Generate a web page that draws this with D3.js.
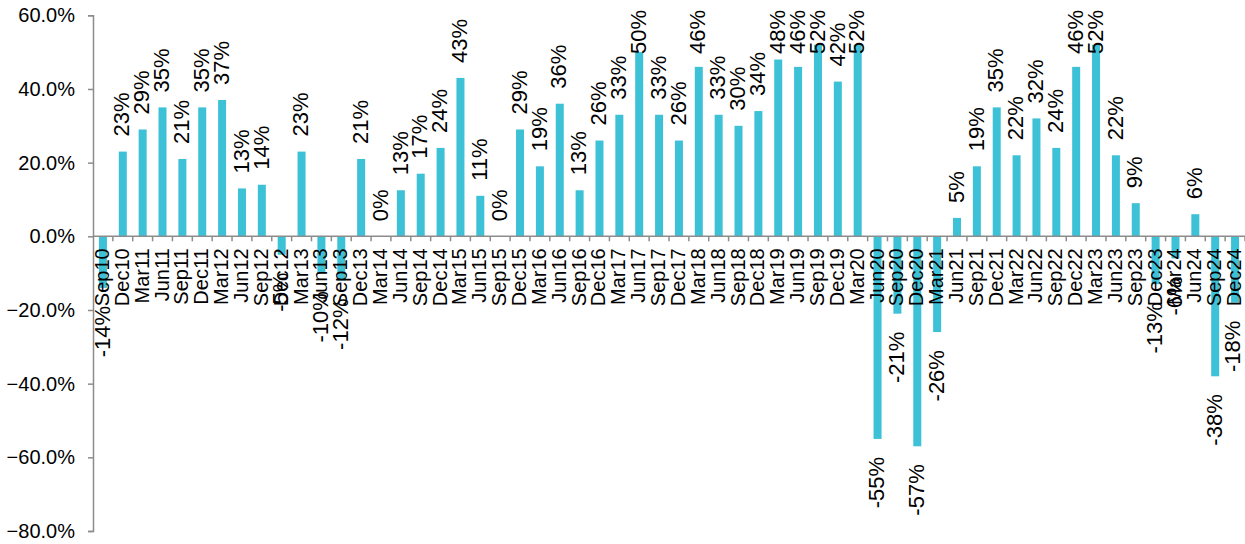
<!DOCTYPE html>
<html>
<head>
<meta charset="utf-8">
<script src="https://cdn.jsdelivr.net/npm/d3@7"></script>
<style>
  html, body { margin: 0; padding: 0; background: #fff; }
  svg { display: block; font-family: "Liberation Sans", Arial, sans-serif; }
</style>
</head>
<body>
<svg id="chart" width="1245" height="544"></svg>
<script>
// Quarterly percentage change
const quarters = [
  "Sep10","Dec10","Mar11","Jun11","Sep11","Dec11","Mar12","Jun12","Sep12","Dec12",
  "Mar13","Jun13","Sep13","Dec13","Mar14","Jun14","Sep14","Dec14","Mar15","Jun15",
  "Sep15","Dec15","Mar16","Jun16","Sep16","Dec16","Mar17","Jun17","Sep17","Dec17",
  "Mar18","Jun18","Sep18","Dec18","Mar19","Jun19","Sep19","Dec19","Mar20","Jun20",
  "Sep20","Dec20","Mar21","Jun21","Sep21","Dec21","Mar22","Jun22","Sep22","Dec22",
  "Mar23","Jun23","Sep23","Dec23","Mar24","Jun24","Sep24","Dec24"
];
const changePct = [
  -14, 23, 29, 35, 21, 35, 37, 13, 14, -5,
  23, -10, -12, 21, 0, 12.5, 17, 24, 43, 11,
  0, 29, 19, 36, 12.5, 26, 33, 50, 33, 26,
  46, 33, 30, 34, 48, 46, 52, 42, 52, -55,
  -21, -57, -26, 5, 19, 35, 22, 32, 24, 46,
  52, 22, 9, -13, -6, 6, -38, -18
];
const yTicks = [60, 40, 20, 0, -20, -40, -60, -80];

const barColor = "#3cc1d7";
const axisColor = "#8c8c8c";

const svg = d3.select("#chart");
const m = { left: 93, right: 1245, top: 15.3, bottom: 531 };

const x = d3.scaleBand().domain(quarters).range([m.left, m.right]).paddingInner(0.6).paddingOuter(0.3);
const y = d3.scaleLinear().domain([-80, 60]).range([m.bottom, m.top]);
const step = x.step();
const mid = q => x(q) + x.bandwidth() / 2;

const data = quarters.map((q, i) => ({ q, v: changePct[i] }));

// bars
svg.append("g").selectAll("rect").data(data).join("rect")
  .attr("x", d => mid(d.q) - 4)
  .attr("width", 8)
  .attr("y", d => Math.min(y(d.v), y(0)))
  .attr("height", d => Math.abs(y(d.v) - y(0)))
  .attr("fill", barColor);

// y axis
const yAxis = svg.append("g").attr("transform", `translate(${m.left},0)`)
  .call(d3.axisLeft(y).tickValues(yTicks).tickSize(5).tickPadding(13)
    .tickFormat(d => d3.format(".1f")(d) + "%"));
yAxis.select(".domain").attr("stroke", axisColor).attr("stroke-width", 1.5);
yAxis.selectAll(".tick line").attr("stroke", axisColor).attr("stroke-width", 1.5);
yAxis.selectAll(".tick text").attr("font-size", 20).attr("fill", "#000")
  .attr("font-family", "Liberation Sans, Arial, sans-serif");

// x axis at zero with ticks between categories
const zeroY = y(0);
const xAxisG = svg.append("g");
xAxisG.append("line")
  .attr("x1", m.left).attr("x2", m.right).attr("y1", zeroY).attr("y2", zeroY)
  .attr("stroke", axisColor).attr("stroke-width", 1.5);
xAxisG.selectAll("line.tk").data(d3.range(1, quarters.length + 1)).join("line")
  .attr("class", "tk")
  .attr("x1", i => m.left + i * step).attr("x2", i => m.left + i * step)
  .attr("y1", zeroY).attr("y2", zeroY + 5)
  .attr("stroke", axisColor).attr("stroke-width", 1.5);

// category labels, rotated, hanging below the zero line
svg.append("g").selectAll("text").data(data).join("text")
  .attr("transform", d => `translate(${mid(d.q) - 1},${zeroY + 12}) rotate(-90)`)
  .attr("text-anchor", "end")
  .attr("dy", "0.35em")
  .attr("font-size", 20)
  .attr("fill", "#000")
  .text(d => d.q);

// value labels above positive bars, below negative ones, kept inside the frame
const fmt = v => Math.round(v) + "%";
const labels = svg.append("g").selectAll("text").data(data).join("text")
  .attr("font-size", 22)
  .attr("fill", "#000")
  .attr("dy", "0.35em")
  .attr("text-anchor", "start")
  .text(d => fmt(d.v));
labels.each(function(d) {
  const len = this.getComputedTextLength();
  const cx = Math.min(mid(d.q) - 1, 1232);
  let yy;
  if (d.v >= 0) {
    yy = y(d.v) - 15;
    if (yy - len < 10) yy = 10 + len;
  } else {
    yy = y(d.v) + 18 + len;
    if (yy > 540) yy = 540;
  }
  d3.select(this).attr("transform", `translate(${cx},${yy}) rotate(-90)`);
});
</script>
</body>
</html>
